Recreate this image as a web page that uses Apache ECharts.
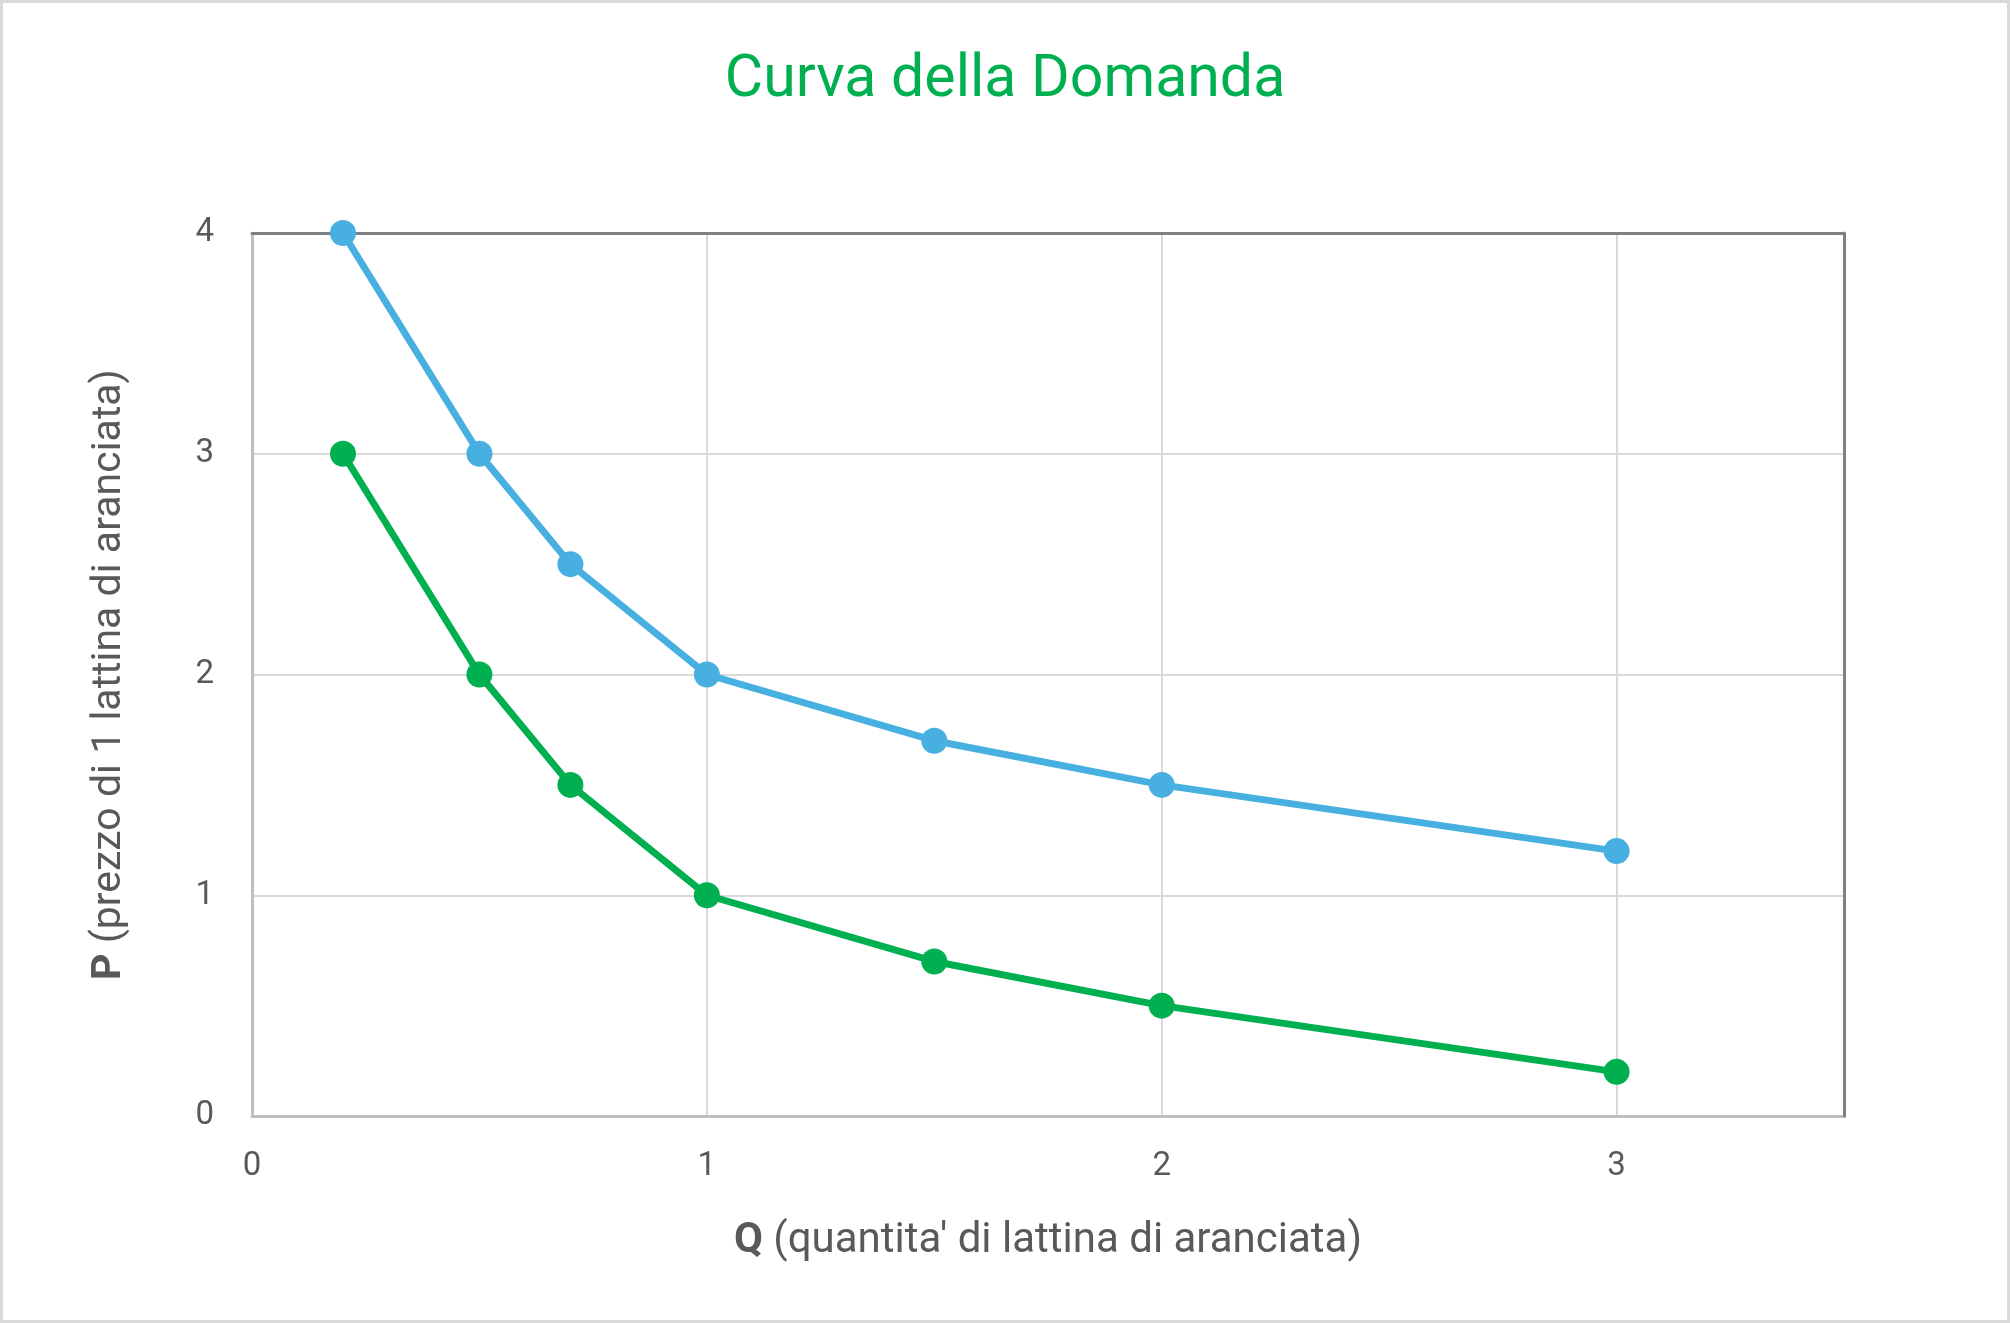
<!DOCTYPE html>
<html>
<head>
<meta charset="utf-8">
<title>Curva della Domanda</title>
<script src="https://cdn.jsdelivr.net/npm/echarts@6/dist/echarts.min.js"></script>
<style>
  html, body { margin: 0; padding: 0; background: #fff; }
  #chart { width: 2010px; height: 1323px; box-sizing: border-box; border: 3px solid #d9d9d9; }
</style>
</head>
<body>
<div id="chart"></div>
<script>
// dati
const quantita = [0.2, 0.5, 0.7, 1, 1.5, 2, 3]
const prezzoAlto = [4, 3, 2.5, 2, 1.7, 1.5, 1.2]
const prezzoBasso = [3, 2, 1.5, 1, 0.7, 0.5, 0.2]

const xTicks = [0, 1, 2, 3]
const yTicks = [0, 1, 2, 3, 4]

const blu = '#47b0e1'
const verde = '#00b050'
const narrow = '"Liberation Sans Narrow", "Roboto", sans-serif'

const chart = echarts.init(document.getElementById('chart'))

// assi: sinistra/basso grigio chiaro, sopra/destra grigio scuro
const asseGrigio = { show: true, onZero: false, lineStyle: { color: '#bfbfbf', width: 3 } }
const asseScuro = { show: true, onZero: false, lineStyle: { color: '#808080', width: 3 } }
const griglia = { show: true, showMinLine: false, showMaxLine: false, lineStyle: { color: '#d9d9d9', width: 2 } }

chart.setOption({
  animation: false,
  backgroundColor: '#fff',
  title: {
    text: 'Curva della Domanda',
    left: 'center',
    top: 44,
    textStyle: { color: verde, fontSize: 59, fontWeight: 'normal', fontFamily: narrow },
  },
  grid: { left: 249, right: 163, top: 230, bottom: 204 },
  xAxis: [
    {
      type: 'value',
      min: 0,
      max: 3.5,
      interval: 1,
      axisLine: asseGrigio,
      axisTick: { show: false },
      axisLabel: {
        color: '#595959',
        fontSize: 33,
        fontFamily: 'Roboto, sans-serif',
        margin: 34,
        formatter: v => (xTicks.includes(v) ? String(v) : ''),
      },
      splitLine: griglia,
      name: '{b|Q} (quantita\' di lattina di aranciata)',
      nameLocation: 'middle',
      nameGap: 104,
      nameTextStyle: {
        color: '#595959',
        fontSize: 42,
        fontFamily: narrow,
        rich: { b: { fontWeight: 'bold', fontSize: 42, color: '#595959', fontFamily: narrow } },
      },
      z: 1,
    },
    {
      type: 'value',
      position: 'top',
      min: 0,
      max: 3.5,
      interval: 1,
      axisLine: asseScuro,
      axisTick: { show: false },
      axisLabel: { show: false },
      splitLine: { show: false },
      z: 2,
    },
  ],
  yAxis: [
    {
      type: 'value',
      min: 0,
      max: 4,
      interval: 1,
      axisLine: asseGrigio,
      axisTick: { show: false },
      axisLabel: {
        color: '#595959',
        fontSize: 33,
        fontFamily: 'Roboto, sans-serif',
        margin: 38,
        formatter: v => (yTicks.includes(v) ? String(v) : ''),
      },
      splitLine: griglia,
      name: '{b|P} (prezzo di 1 lattina di aranciata)',
      nameLocation: 'middle',
      nameRotate: 90,
      nameGap: 122,
      nameTextStyle: {
        color: '#595959',
        fontSize: 41,
        fontFamily: narrow,
        rich: { b: { fontWeight: 'bold', fontSize: 41, color: '#595959', fontFamily: narrow } },
      },
      z: 1,
    },
    {
      type: 'value',
      position: 'right',
      min: 0,
      max: 4,
      interval: 1,
      axisLine: asseScuro,
      axisTick: { show: false },
      axisLabel: { show: false },
      splitLine: { show: false },
      z: 2,
    },
  ],
  series: [
    {
      name: 'alto',
      type: 'line',
      data: quantita.map((q, i) => [q, prezzoAlto[i]]),
      symbol: 'circle',
      symbolSize: 26,
      lineStyle: { color: blu, width: 7 },
      itemStyle: { color: blu },
      z: 3,
    },
    {
      name: 'basso',
      type: 'line',
      data: quantita.map((q, i) => [q, prezzoBasso[i]]),
      symbol: 'circle',
      symbolSize: 26,
      lineStyle: { color: verde, width: 7 },
      itemStyle: { color: verde },
      z: 3,
    },
  ],
})
</script>
</body>
</html>
